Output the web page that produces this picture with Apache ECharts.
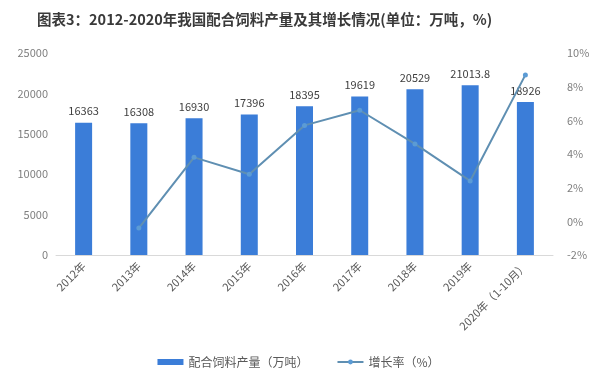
<!DOCTYPE html>
<html>
<head>
<meta charset="utf-8">
<script src="https://cdn.jsdelivr.net/npm/echarts@6/dist/echarts.min.js"></script>
<style>
html,body{margin:0;padding:0;background:#fff;}
#main{width:597px;height:379px;}
</style>
</head>
<body>
<div id="main"></div>
<script>
const categories = ['2012年','2013年','2014年','2015年','2016年','2017年','2018年','2019年','2020年（1-10月）'];
const output = [16363, 16308, 16930, 17396, 18395, 19619, 20529, 21013.8, 18926];
const growth = [null, -0.4, 3.8, 2.8, 5.7, 6.6, 4.6, 2.4, 8.7];
const leftTicks = [0, 25000, 5000];
const rightTicks = [-2, 10, 2];

const chart = echarts.init(document.getElementById('main'));
const cjk = '"Noto Sans CJK SC", "Microsoft YaHei", sans-serif';
chart.setOption({
  backgroundColor: '#fff',
  animation: false,
  title: {
    text: '图表3：2012-2020年我国配合饲料产量及其增长情况(单位：万吨，%)',
    left: 32, top: 7,
    textStyle: {fontFamily: cjk, fontSize: 14.5, fontWeight: 'bold', color: '#3a3a3a'}
  },
  legend: {
    bottom: 6, left: 'center', itemGap: 28,
    textStyle: {fontFamily: cjk, fontSize: 12, color: '#595959'},
    data: [
      {name: '配合饲料产量（万吨）', icon: 'rect', itemStyle: {color: '#3b7dd8'}},
      {name: '增长率（%）'}
    ],
    itemWidth: 26, itemHeight: 6
  },
  grid: {left: 56, right: 44, top: 53, bottom: 124},
  xAxis: {
    type: 'category', data: categories,
    axisLine: {lineStyle: {color: '#d9d9d9'}},
    axisTick: {show: false},
    axisLabel: {rotate: 45, fontFamily: cjk, fontSize: 11, color: '#595959', margin: 9, interval: 0}
  },
  yAxis: [
    {type: 'value', min: leftTicks[0], max: leftTicks[1], interval: leftTicks[2],
     splitLine: {show: false}, axisLine: {show: false}, axisTick: {show: false},
     axisLabel: {formatter: function (v) { return String(v); }, fontFamily: cjk, fontSize: 11, color: '#7f7f7f', margin: 8}},
    {type: 'value', min: rightTicks[0], max: rightTicks[1], interval: rightTicks[2],
     splitLine: {show: false}, axisLine: {show: false}, axisTick: {show: false},
     axisLabel: {formatter: '{value}%', fontFamily: cjk, fontSize: 11, color: '#7f7f7f', margin: 14}}
  ],
  series: [
    {name: '配合饲料产量（万吨）', type: 'bar', data: output, barWidth: 17,
     itemStyle: {color: '#3b7dd8'},
     label: {show: true, position: 'top', distance: 6, fontFamily: cjk, fontSize: 11, color: '#404040'}},
    {name: '增长率（%）', type: 'line', yAxisIndex: 1, data: growth,
     symbol: 'circle', symbolSize: 5, showSymbol: true,
     lineStyle: {color: '#5f8fb2', width: 2},
     itemStyle: {color: '#5b9bd5'},
     z: 5}
  ]
});
</script>
</body>
</html>
